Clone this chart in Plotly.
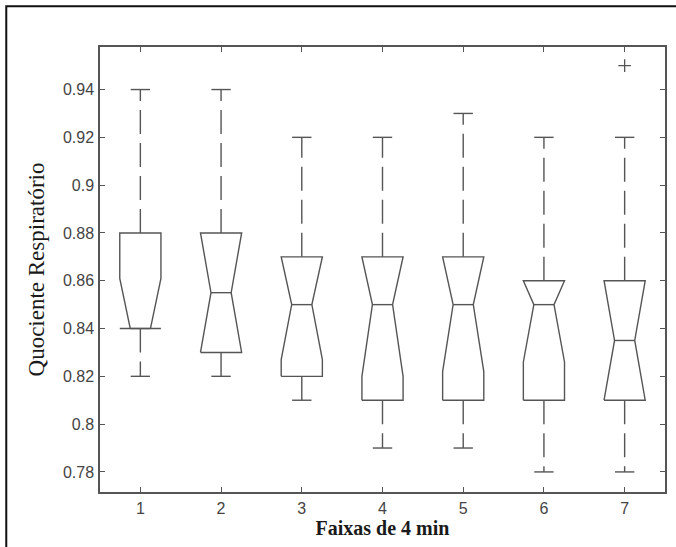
import plotly.graph_objects as go

# ---- data ----
categories = [1, 2, 3, 4, 5, 6, 7]
q1 = [0.84, 0.83, 0.82, 0.81, 0.81, 0.81, 0.81]
medians = [0.84, 0.855, 0.85, 0.85, 0.85, 0.85, 0.835]
q3 = [0.88, 0.88, 0.87, 0.87, 0.87, 0.86, 0.86]
notch_half = [0.021, 0.026, 0.023, 0.030, 0.028, 0.024, 0.026]
lower_whisker = [0.82, 0.82, 0.81, 0.79, 0.79, 0.78, 0.78]
upper_whisker = [0.94, 0.94, 0.92, 0.92, 0.93, 0.92, 0.92]
outlier_x = [7]
outlier_y = [0.95]
y_ticks = [0.78, 0.80, 0.82, 0.84, 0.86, 0.88, 0.90, 0.92, 0.94]
y_tick_labels = ["0.78", "0.8", "0.82", "0.84", "0.86", "0.88", "0.9", "0.92", "0.94"]
x_tick_labels = ["1", "2", "3", "4", "5", "6", "7"]
x_title = "Faixas de 4 min"
y_title = "Quociente Respiratório"

# ---- styles ----
LINE = "#555555"
BOX_HALF = 0.255
NOTCH_HALF_W = 0.125
CAP_HALF = 0.12

box_x, box_y = [], []
med_x, med_y = [], []
wh_x, wh_y = [], []
cap_x, cap_y = [], []
for c, a, m, b, n, lo, hi in zip(categories, q1, medians, q3, notch_half,
                                 lower_whisker, upper_whisker):
    nlo = max(m - n, a)
    nhi = min(m + n, b)
    l, r = c - BOX_HALF, c + BOX_HALF
    nl, nr = c - NOTCH_HALF_W, c + NOTCH_HALF_W
    box_x += [l, l, nl, l, l, r, r, nr, r, r, l, None]
    box_y += [a, nlo, m, nhi, b, b, nhi, m, nlo, a, a, None]
    med_x += [nl, nr, None]
    med_y += [m, m, None]
    wh_x += [c, c, None, c, c, None]
    wh_y += [b, hi, None, a, lo, None]
    cap_x += [c - CAP_HALF, c + CAP_HALF, None, c - CAP_HALF, c + CAP_HALF, None]
    cap_y += [hi, hi, None, lo, lo, None]

fig = go.Figure()
fig.add_trace(go.Scatter(x=wh_x, y=wh_y, mode="lines", hoverinfo="skip",
                         line=dict(color=LINE, width=1.4, dash="24px,9px")))
fig.add_trace(go.Scatter(x=cap_x, y=cap_y, mode="lines", hoverinfo="skip",
                         line=dict(color=LINE, width=1.4)))
fig.add_trace(go.Scatter(x=box_x, y=box_y, mode="lines", hoverinfo="skip",
                         line=dict(color=LINE, width=1.4)))
fig.add_trace(go.Scatter(x=med_x, y=med_y, mode="lines", hoverinfo="skip",
                         line=dict(color=LINE, width=1.4)))
fig.add_trace(go.Scatter(x=outlier_x, y=outlier_y, mode="markers",
                         marker=dict(symbol="cross-thin-open", size=9, color=LINE,
                                     line=dict(color=LINE, width=1.3))))

axis_common = dict(showline=True, linecolor=LINE, linewidth=1.5, mirror="ticks",
                   ticks="inside", ticklen=5, tickwidth=1.3, tickcolor=LINE,
                   showgrid=False, zeroline=False,
                   tickfont=dict(family="Liberation Sans, Arial", size=16, color="#444444"))

fig.update_layout(
    width=676, height=547,
    margin=dict(l=100, r=9, t=47, b=55),
    paper_bgcolor="white", plot_bgcolor="white",
    showlegend=False,
    xaxis=dict(range=[0.5, 7.5], tickmode="array", tickvals=categories,
               ticktext=x_tick_labels, ticklabelstandoff=1,
               title=dict(text="<b>" + x_title + "</b>", standoff=2,
                          font=dict(family="Liberation Serif, Times New Roman",
                                    size=20, color="#1a1a1a")),
               **axis_common),
    yaxis=dict(range=[0.7716, 0.9578], tickmode="array", tickvals=y_ticks,
               ticktext=y_tick_labels, ticklabelstandoff=1,
               title=dict(text=y_title, standoff=12,
                          font=dict(family="Liberation Serif, Times New Roman",
                                    size=23, color="#1a1a1a")),
               **axis_common),
    shapes=[dict(type="path", xref="paper", yref="paper",
                 path="M -0.1659,-0.3 L -0.1659,1.0915 L 1.2,1.0915",
                 line=dict(color="#111111", width=2))],
)

fig.write_html("out.html", config={"displayModeBar": False},
               post_script="document.body.style.margin='0';")
